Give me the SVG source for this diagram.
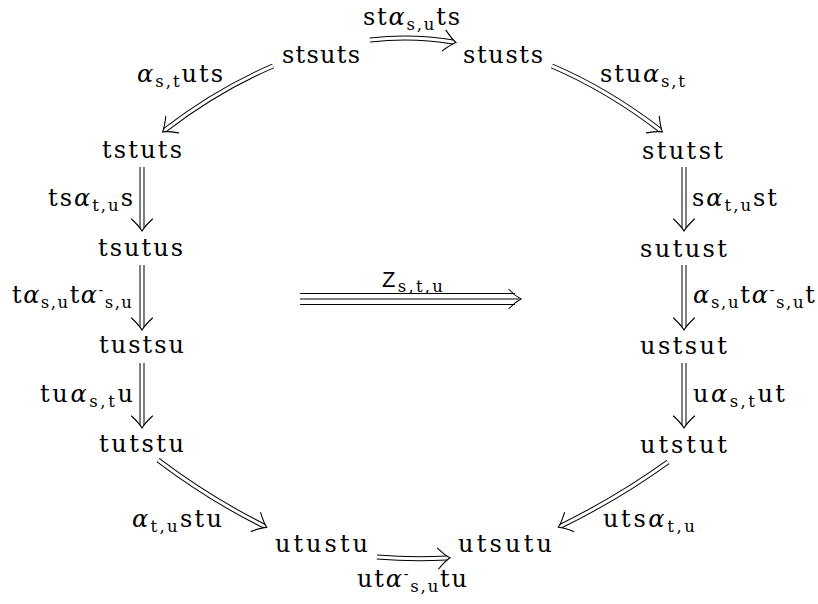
<svg xmlns="http://www.w3.org/2000/svg" width="818" height="604" viewBox="0 0 818 604">
<style>
text{font-family:"DejaVu Serif","Liberation Serif",serif;font-size:24px;fill:#000;}
.sb{font-size:16.5px;}
.sp{font-size:14px;}
.a{font-style:italic;}
.z{font-family:"Liberation Sans","DejaVu Sans",sans-serif;font-size:22px;}
.ob{fill:none;stroke:#000;stroke-width:5;}
.iw{fill:none;stroke:#fff;stroke-width:3;marker-end:url(#ah);}
.tl{stroke:#000;stroke-width:1.1;fill:none;}
</style>
<defs>
<marker id="ah" markerUnits="userSpaceOnUse" orient="auto" overflow="visible" markerWidth="30" markerHeight="30" refX="0" refY="0">
<path d="M-9,-10.5 Q-2,-3 3,0 Q-2,3 -9,10.5" fill="none" stroke="#000" stroke-width="1.1" stroke-linecap="round"/>
</marker>
</defs>
<rect width="818" height="604" fill="#fff"/>
<g id="edges">
<g id="e-top"><path class="ob" d="M370,40 Q412,35 453,42"/><path class="iw" d="M370,40 Q412,35 453,42"/></g>
<g id="e-tl"><path class="ob" d="M273,66 Q217,90 165,130"/><path class="iw" d="M273,66 Q217,90 165,130"/></g>
<g id="e-tr"><path class="ob" d="M552,66 Q608,90 660,130"/><path class="iw" d="M552,66 Q608,90 660,130"/></g>
<g id="e-l1"><path class="ob" d="M142,167 V228"/><path class="iw" d="M142,167 V228"/></g>
<g id="e-l2"><path class="ob" d="M142,265 V327"/><path class="iw" d="M142,265 V327"/></g>
<g id="e-l3"><path class="ob" d="M142,363 V425"/><path class="iw" d="M142,363 V425"/></g>
<g id="e-r1"><path class="ob" d="M684,167 V228"/><path class="iw" d="M684,167 V228"/></g>
<g id="e-r2"><path class="ob" d="M684,265 V327"/><path class="iw" d="M684,265 V327"/></g>
<g id="e-r3"><path class="ob" d="M684,363 V425"/><path class="iw" d="M684,363 V425"/></g>
<g id="e-bl"><path class="ob" d="M158,460 Q208,498 264,526"/><path class="iw" d="M158,460 Q208,498 264,526"/></g>
<g id="e-br"><path class="ob" d="M668,462 Q618,498 561,526"/><path class="iw" d="M668,462 Q618,498 561,526"/></g>
<g id="e-bot"><path class="ob" d="M377,557 Q412,560 447,558"/><path class="iw" d="M377,557 Q412,560 447,558"/></g>
<g id="e-z">
<path class="tl" d="M300,293.5 H515 M300,299 H519 M300,304.5 H515"/>
<path class="tl" d="M509,289.5 Q515,296 521,299 Q515,302 509,308.5" stroke-linecap="round"/>
</g>
</g>
<g id="labels">
<text x="363" y="25" textLength="97">st<tspan class="a">α</tspan><tspan class="sb" dy="5">s,u</tspan><tspan dy="-5">ts</tspan></text>
<text x="137" y="82" textLength="86"><tspan class="a">α</tspan><tspan class="sb" dy="5">s,t</tspan><tspan dy="-5">uts</tspan></text>
<text x="600" y="82" textLength="85">stu<tspan class="a">α</tspan><tspan class="sb" dy="5">s,t</tspan></text>
<text x="48" y="206" textLength="85">ts<tspan class="a">α</tspan><tspan class="sb" dy="5">t,u</tspan><tspan dy="-5">s</tspan></text>
<text x="12" y="303" textLength="120">t<tspan class="a">α</tspan><tspan class="sb" dy="5">s,u</tspan><tspan dy="-5">t</tspan><tspan class="a">α</tspan><tspan class="sp" dy="-8">-</tspan><tspan class="sb" dy="13">s,u</tspan></text>
<text x="40" y="402" textLength="93">tu<tspan class="a">α</tspan><tspan class="sb" dy="5">s,t</tspan><tspan dy="-5">u</tspan></text>
<text x="692" y="206" textLength="85">s<tspan class="a">α</tspan><tspan class="sb" dy="5">t,u</tspan><tspan dy="-5">st</tspan></text>
<text x="693" y="303" textLength="122"><tspan class="a">α</tspan><tspan class="sb" dy="5">s,u</tspan><tspan dy="-5">t</tspan><tspan class="a">α</tspan><tspan class="sp" dy="-8">-</tspan><tspan class="sb" dy="13">s,u</tspan><tspan dy="-5">t</tspan></text>
<text x="693" y="402" textLength="92">u<tspan class="a">α</tspan><tspan class="sb" dy="5">s,t</tspan><tspan dy="-5">ut</tspan></text>
<text x="132" y="527" textLength="90"><tspan class="a">α</tspan><tspan class="sb" dy="5">t,u</tspan><tspan dy="-5">stu</tspan></text>
<text x="603" y="527" textLength="92">uts<tspan class="a">α</tspan><tspan class="sb" dy="5">t,u</tspan></text>
<text x="357" y="587" textLength="110">ut<tspan class="a">α</tspan><tspan class="sp" dy="-8">-</tspan><tspan class="sb" dy="13">s,u</tspan><tspan dy="-5">tu</tspan></text>
<text x="382" y="287" textLength="61"><tspan class="z">Z</tspan><tspan class="sb" dy="5">s,t,u</tspan></text>
</g>
<g id="n-stsuts"><text x="282" y="63" textLength="78">stsuts</text></g>
<g id="n-stusts"><text x="463" y="63" textLength="80">stusts</text></g>
<g id="n-tstuts"><text x="102" y="158" textLength="80">tstuts</text></g>
<g id="n-tsutus"><text x="98" y="256" textLength="85">tsutus</text></g>
<g id="n-tustsu"><text x="99" y="353" textLength="85">tustsu</text></g>
<g id="n-tutstu"><text x="99" y="452" textLength="85">tutstu</text></g>
<g id="n-stutst"><text x="642" y="159" textLength="81">stutst</text></g>
<g id="n-sutust"><text x="640" y="257" textLength="87">sutust</text></g>
<g id="n-ustsut"><text x="640" y="354" textLength="87">ustsut</text></g>
<g id="n-utstut"><text x="640" y="453" textLength="87">utstut</text></g>
<g id="n-utustu"><text x="275" y="552" textLength="93">utustu</text></g>
<g id="n-utsutu"><text x="458" y="552" textLength="94">utsutu</text></g>
</svg>
